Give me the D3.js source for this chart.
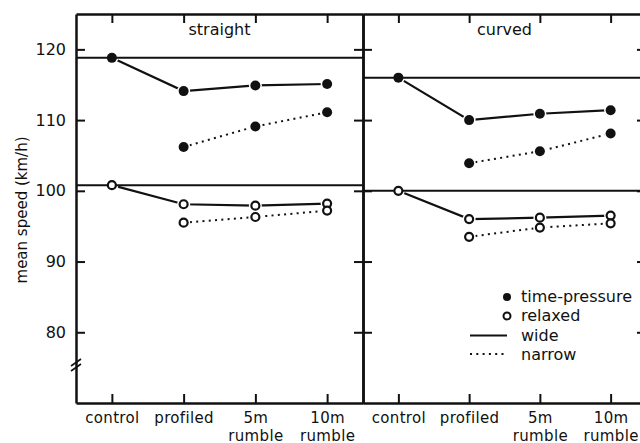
<!DOCTYPE html>
<html>
<head>
<meta charset="utf-8">
<script src="https://cdn.jsdelivr.net/npm/d3@7"></script>
<style>
  html, body { margin: 0; padding: 0; background: #fff; }
  svg { display: block; }
  svg text { font-family: "DejaVu Sans", sans-serif; fill: #111; }
</style>
</head>
<body>
<svg id="chart" width="640" height="443"></svg>
<script>
// ---- data ----
const categories = ["control", "profiled", "5m rumble", "10m rumble"];
const panels = ["straight", "curved"];
const yTicks = [80, 90, 100, 110, 120];

// straight road
const straightTimeWide   = [118.8, 114.1, 114.9, 115.1];
const straightTimeNarrow = [null, 106.2, 109.1, 111.1];
const straightRelaxWide  = [100.8, 98.1, 97.9, 98.2];
const straightRelaxNarrow= [null, 95.5, 96.3, 97.2];
// curved road
const curvedTimeWide     = [116.0, 110.0, 110.9, 111.4];
const curvedTimeNarrow   = [null, 103.9, 105.6, 108.1];
const curvedRelaxWide    = [100.0, 96.0, 96.2, 96.5];
const curvedRelaxNarrow  = [null, 93.5, 94.8, 95.4];

const legendLabels = ["time-pressure", "relaxed", "wide", "narrow"];

const panelData = [
  { name: panels[0], series: [
    { v: straightTimeWide, filled: true, dotted: false },
    { v: straightTimeNarrow, filled: true, dotted: true },
    { v: straightRelaxWide, filled: false, dotted: false },
    { v: straightRelaxNarrow, filled: false, dotted: true } ] },
  { name: panels[1], series: [
    { v: curvedTimeWide, filled: true, dotted: false },
    { v: curvedTimeNarrow, filled: true, dotted: true },
    { v: curvedRelaxWide, filled: false, dotted: false },
    { v: curvedRelaxNarrow, filled: false, dotted: true } ] }
];

// ---- layout ----
const svg = d3.select("#chart");
const plotTop = 14, plotBottom = 403;
const panelX = [[76, 363], [363, 646]];
const y = d3.scaleLinear().domain([70, 125]).range([plotBottom, plotTop]);
const ink = "#111";

panelData.forEach((p, i) => {
  const [x0, x1] = panelX[i];
  const x = d3.scalePoint().domain(categories).range([x0, x1]).padding(0.5);
  const g = svg.append("g");

  // top axis (frame)
  g.append("g").attr("transform", `translate(0,${plotTop})`)
    .call(d3.axisTop(x).tickSizeInner(-9).tickSizeOuter(0).tickFormat(""));
  // bottom axis
  const gb = g.append("g").attr("transform", `translate(0,${plotBottom})`)
    .call(d3.axisBottom(x).tickSizeInner(-9).tickSizeOuter(0).tickFormat(""));
  gb.selectAll(".tick text").remove();
  gb.selectAll(".tick").each(function(d) {
    const parts = d.split(" ");
    const tk = d3.select(this);
    parts.forEach((s, k) => {
      tk.append("text")
        .attr("text-anchor", "middle").attr("x", 0).attr("y", 19.5 + k * 18)
        .style("font-size", "15px").style("letter-spacing", "0.35px")
        .attr("fill", ink).text(s);
    });
  });

  // left side axis
  if (i === 0) {
    g.append("g").attr("transform", `translate(${x0},0)`)
      .call(d3.axisLeft(y).tickValues(yTicks).tickSizeInner(-9).tickSizeOuter(0).tickPadding(10))
      .selectAll("text").style("font-size", "16px").attr("fill", ink);
  } else {
    g.append("g").attr("transform", `translate(${x0},0)`)
      .call(d3.axisLeft(y).tickValues(yTicks).tickSizeInner(-9).tickSizeOuter(0).tickFormat(""));
  }
  // right side axis (ticks pointing into panel)
  g.append("g").attr("transform", `translate(${x1},0)`)
    .call(d3.axisRight(y).tickValues(yTicks).tickSizeInner(-9).tickSizeOuter(0).tickFormat(""));

  g.selectAll(".domain").attr("stroke", ink).attr("stroke-width", 2.5);
  g.selectAll(".tick line").attr("stroke", ink).attr("stroke-width", 2);

  // panel title
  g.append("text").attr("x", (x0 + x1) / 2).attr("y", 35)
    .attr("text-anchor", "middle").style("font-size", "16px").text(p.name);

  const line = d3.line().defined(d => d.v != null)
    .x(d => x(d.c)).y(d => y(d.v));

  // series lines
  p.series.forEach(s => {
    const pts = categories.map((c, k) => ({ c, v: s.v[k] }));
    g.append("path").datum(pts).attr("d", line)
      .attr("fill", "none").attr("stroke", ink).attr("stroke-width", s.dotted ? 2 : 2.2)
      .attr("stroke-dasharray", s.dotted ? "2,4.3" : null);
  });
  // white halos creating small gaps
  p.series.forEach(s => {
    categories.forEach((c, k) => {
      if (s.v[k] == null) return;
      g.append("circle").attr("cx", x(c)).attr("cy", y(s.v[k])).attr("r", 6.5).attr("fill", "#fff");
    });
  });
  // reference lines at control values (wide series)
  [p.series[0], p.series[2]].forEach(s => {
    g.append("line").attr("x1", x0).attr("x2", x1)
      .attr("y1", y(s.v[0])).attr("y2", y(s.v[0]))
      .attr("stroke", ink).attr("stroke-width", 2);
  });
  // markers
  p.series.forEach(s => {
    categories.forEach((c, k) => {
      if (s.v[k] == null) return;
      const cc = g.append("circle").attr("cx", x(c)).attr("cy", y(s.v[k]));
      if (s.filled) cc.attr("r", 5).attr("fill", ink);
      else cc.attr("r", 4).attr("fill", "#fff").attr("stroke", ink).attr("stroke-width", 2.2);
    });
  });
});

// axis break marks
svg.append("line").attr("x1", 71).attr("y1", 366).attr("x2", 81).attr("y2", 359)
  .attr("stroke", ink).attr("stroke-width", 1.6);
svg.append("line").attr("x1", 71).attr("y1", 371).attr("x2", 81).attr("y2", 364)
  .attr("stroke", ink).attr("stroke-width", 1.6);

// y axis title
svg.append("text").attr("transform", "translate(27,210) rotate(-90)")
  .attr("text-anchor", "middle").style("font-size", "15px").text("mean speed (km/h)");

// legend
const lg = svg.append("g");
lg.append("circle").attr("cx", 507).attr("cy", 297).attr("r", 4).attr("fill", ink);
lg.append("circle").attr("cx", 507).attr("cy", 316).attr("r", 3.5).attr("fill", "#fff")
  .attr("stroke", ink).attr("stroke-width", 2);
lg.append("line").attr("x1", 470).attr("x2", 507).attr("y1", 335.5).attr("y2", 335.5)
  .attr("stroke", ink).attr("stroke-width", 2);
lg.append("line").attr("x1", 470).attr("x2", 507).attr("y1", 354).attr("y2", 354)
  .attr("stroke", ink).attr("stroke-width", 2).attr("stroke-dasharray", "2,4.3");
const lgY = [302, 321, 341, 360];
legendLabels.forEach((t, k) => {
  lg.append("text").attr("x", 521).attr("y", lgY[k]).style("font-size", "16px").text(t);
});
</script>
</body>
</html>
